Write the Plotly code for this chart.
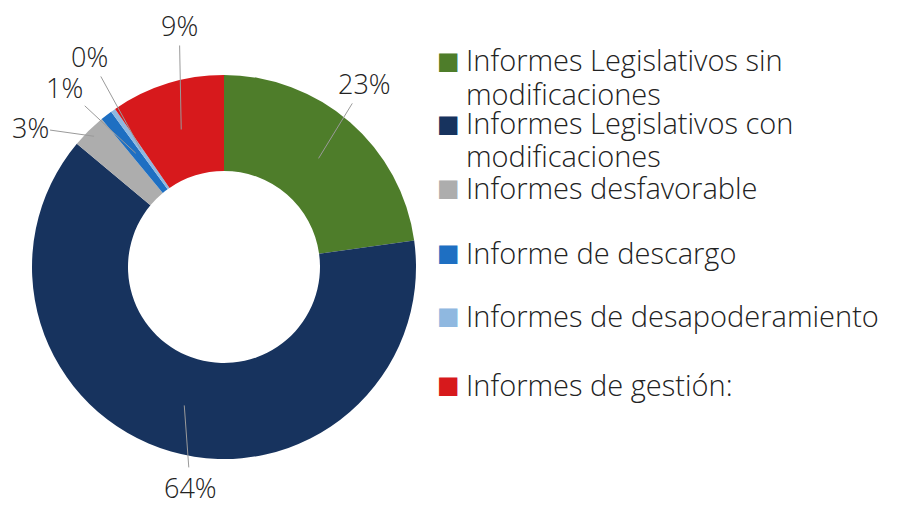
import math

import plotly.graph_objects as go

# Data
CATEGORIES = [
    "Informes Legislativos sin<br>modificaciones",
    "Informes Legislativos con<br>modificaciones",
    "Informes desfavorable",
    "Informe de descargo",
    "Informes de desapoderamiento",
    "Informes de gestión:",
]
SHARES = [22.8, 63.3, 2.9, 1.0, 0.4, 9.6]
PCT_LABELS = ["23%", "64%", "3%", "1%", "0%", "9%"]
COLORS = ["#4e7d2a", "#17335e", "#adadad", "#1e6fc2", "#8fb8e0", "#d7191c"]

# Layout constants (pixels, page coordinates)
W, H = 906, 506
PAGE_MARGIN = 8  # default body margin of the html page
CX, CY = 224, 267
R_OUT, R_IN = 192, 96
FONT = "Open Sans"
TEXT_COLOR = "#222222"

# label offsets (text centre relative to leader anchor) and anchor radius
LABEL_OFFSETS = [(46, -75), (6, 82), (-64, -9), (-71, -66), (-51, -93), (-2, -104)]
ANCHOR_R = [0.75, 0.75, 0.96, 0.75, 0.75, 0.75]

# legend rows (centre of first line of each entry)
LEGEND_Y = [60, 123, 187, 252, 315, 384]
LEG_X_SYM = 448
LEG_X_TXT = 464
LEG_LINE = 33

FW, FH = W - PAGE_MARGIN, H - PAGE_MARGIN


def to_paper(px, py):
    return (px - PAGE_MARGIN) / FW, 1 - (py - PAGE_MARGIN) / FH


fig = go.Figure()

x0, y1 = to_paper(CX - R_OUT, CY - R_OUT)
x1, y0 = to_paper(CX + R_OUT, CY + R_OUT)
fig.add_trace(
    go.Pie(
        labels=[c.replace("<br>", " ") for c in CATEGORIES],
        values=SHARES,
        hole=R_IN / R_OUT,
        sort=False,
        direction="clockwise",
        rotation=0,
        marker=dict(colors=COLORS, line=dict(width=0)),
        textinfo="none",
        hoverinfo="label+percent",
        showlegend=False,
        domain=dict(x=[x0, x1], y=[y0, y1]),
    )
)

annotations = []

# percentage labels with leader lines
total = sum(SHARES)
cum = 0.0
for i, v in enumerate(SHARES):
    mid = (cum + v / 2) / total * 2 * math.pi
    cum += v
    r = R_OUT * ANCHOR_R[i]
    px = CX + r * math.sin(mid)
    py = CY - r * math.cos(mid)
    ax, ay = LABEL_OFFSETS[i]
    x, y = to_paper(px, py)
    annotations.append(
        dict(
            x=x, y=y, xref="paper", yref="paper",
            ax=ax, ay=ay,
            text=PCT_LABELS[i],
            showarrow=True, arrowhead=0, arrowwidth=1, arrowcolor="#9a9a9a",
            standoff=0, startstandoff=0,
            font=dict(family=FONT, size=27, color=TEXT_COLOR, weight=300),
        )
    )

# legend built from annotations
for name, color, yc in zip(CATEGORIES, COLORS, LEGEND_Y):
    xs, ys = to_paper(LEG_X_SYM, yc + 1)
    annotations.append(
        dict(
            x=xs, y=ys, xref="paper", yref="paper",
            xanchor="center", yanchor="middle", showarrow=False,
            text="■",
            font=dict(family="DejaVu Sans", size=24, color=color),
        )
    )
    for j, line in enumerate(name.split("<br>")):
        xt, yt = to_paper(LEG_X_TXT, yc + j * LEG_LINE)
        annotations.append(
            dict(
                x=xt, y=yt, xref="paper", yref="paper",
                xanchor="left", yanchor="middle", align="left", showarrow=False,
                text=line,
                font=dict(family=FONT, size=29, color=TEXT_COLOR, weight=300),
            )
        )

fig.update_layout(
    width=FW,
    height=FH,
    margin=dict(l=0, r=0, t=0, b=0),
    paper_bgcolor="#ffffff",
    plot_bgcolor="#ffffff",
    annotations=annotations,
)

fig.write_html("out.html")
